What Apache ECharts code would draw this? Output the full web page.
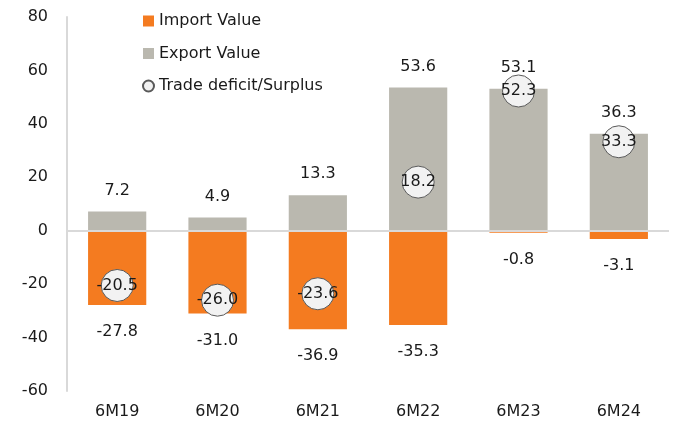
<!DOCTYPE html>
<html>
<head>
<meta charset="utf-8">
<script src="https://cdn.jsdelivr.net/npm/echarts@6/dist/echarts.min.js"></script>
<style>
  html, body { margin: 0; padding: 0; background: #fff; }
  #chart { width: 675px; height: 430px; }
</style>
</head>
<body>
<div id="chart"></div>
<script>
// values
var categories = ['6M19', '6M20', '6M21', '6M22', '6M23', '6M24'];
var importValue = [-27.8, -31.0, -36.9, -35.3, -0.8, -3.1];
var exportValue = [7.2, 4.9, 13.3, 53.6, 53.1, 36.3];
var tradeBalance = [-20.5, -26.0, -23.6, 18.2, 52.3, 33.3];
var yTicks = { min: -60, max: 80, interval: 20 };

var font = '"DejaVu Sans", sans-serif';
var textColor = '#1a1a1a';

function oneDecimal(p) { return p.value.toFixed(1); }

var myChart = echarts.init(document.getElementById('chart'));
myChart.setOption({
    animation: false,
    textStyle: { fontFamily: font },
    grid: { left: 67, right: 6, top: 17, bottom: 39, containLabel: false },
    legend: {
        orient: 'vertical',
        left: 137,
        top: 6,
        itemWidth: 11,
        itemHeight: 11,
        itemGap: 12.5,
        selectedMode: false,
        textStyle: { fontSize: 16, lineHeight: 20, color: textColor, fontFamily: font },
        data: [
            { name: 'Import Value', icon: 'rect' },
            { name: 'Export Value', icon: 'rect' },
            { name: 'Trade deficit/Surplus', icon: 'circle' }
        ]
    },
    xAxis: {
        type: 'category',
        data: categories,
        axisLine: { show: false },
        axisTick: { show: false },
        axisLabel: { color: textColor, fontSize: 16, margin: 13, fontFamily: font }
    },
    yAxis: {
        type: 'value',
        min: yTicks.min,
        max: yTicks.max,
        interval: yTicks.interval,
        axisLine: { show: true, lineStyle: { color: '#d9d9d9', width: 2 } },
        axisTick: { show: false },
        splitLine: { show: false },
        axisLabel: { color: textColor, fontSize: 16, margin: 19, padding: [4, 0, 0, 0], fontFamily: font }
    },
    series: [{
        name: 'Import Value',
        type: 'bar',
        stack: 'trade',
        barWidth: '58%',
        itemStyle: { color: '#f47b20' },
        label: {
            show: true,
            position: 'bottom',
            distance: 19,
            color: textColor,
            fontSize: 16,
            fontFamily: font,
            formatter: oneDecimal
        },
        markLine: {
            silent: true,
            symbol: 'none',
            label: { show: false },
            lineStyle: { color: '#d9d9d9', width: 2, type: 'solid' },
            data: [{ yAxis: 0 }]
        },
        data: importValue
    }, {
        name: 'Export Value',
        type: 'bar',
        stack: 'trade',
        barWidth: '58%',
        itemStyle: { color: '#bab8af' },
        label: {
            show: true,
            position: 'top',
            distance: 13,
            color: textColor,
            fontSize: 16,
            fontFamily: font,
            formatter: oneDecimal
        },
        data: exportValue
    }, {
        name: 'Trade deficit/Surplus',
        type: 'scatter',
        symbol: 'circle',
        symbolSize: 32,
        z: 5,
        itemStyle: { color: '#f2f2f2', borderColor: '#595959', borderWidth: 1, opacity: 1 },
        label: {
            show: true,
            position: 'inside',
            color: textColor,
            fontSize: 16,
            fontFamily: font,
            formatter: oneDecimal
        },
        data: tradeBalance
    }]
});
</script>
</body>
</html>
